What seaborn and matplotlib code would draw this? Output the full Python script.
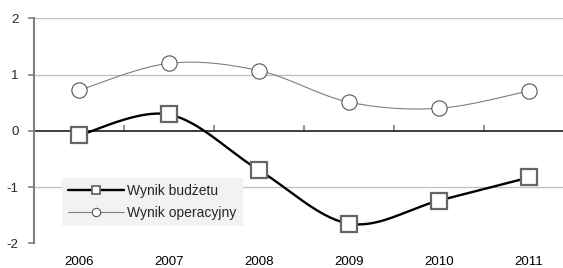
import numpy as np
import pandas as pd
import matplotlib
matplotlib.use("Agg")
import matplotlib.pyplot as plt
from matplotlib.lines import Line2D
import seaborn as sns

years = ["2006", "2007", "2008", "2009", "2010", "2011"]
wynik_budzetu = [-0.08, 0.29, -0.70, -1.65, -1.24, -0.83]
wynik_operacyjny = [0.72, 1.20, 1.07, 0.51, 0.40, 0.71]
y_ticks = [-2, -1, 0, 1, 2]

sns.set_theme(style="white")
plt.rcParams["font.family"] = ["Liberation Sans", "DejaVu Sans"]


def smooth(xs, ys, n=40):
    """Bezier smoothing through the points (Catmull-Rom style)."""
    p = np.column_stack([xs, ys]).astype(float)
    p_ext = np.vstack([p[0], p, p[-1]])
    out = []
    for i in range(len(p) - 1):
        p0, p1, p2, p3 = p_ext[i], p_ext[i + 1], p_ext[i + 2], p_ext[i + 3]
        c1 = p1 + (p2 - p0) / 6.0
        c2 = p2 - (p3 - p1) / 6.0
        t = np.linspace(0, 1, n)[:, None]
        seg = ((1 - t) ** 3) * p1 + 3 * ((1 - t) ** 2) * t * c1 + 3 * (1 - t) * t ** 2 * c2 + t ** 3 * p2
        out.append(seg if i == 0 else seg[1:])
    out = np.vstack(out)
    return out[:, 0], out[:, 1]


x = np.arange(len(years))
fig = plt.figure(figsize=(5.63, 2.68), dpi=100)
ax = fig.add_axes([34 / 563, 24.7 / 268, 529 / 563, 225 / 268])

# gridlines
for v in y_ticks:
    if v == 0:
        continue
    ax.axhline(v, color="#bfbfbf" if v != -2 else "#d0d0d0", lw=0.9, zorder=0)

sx, sy = smooth(x, wynik_operacyjny)
df_op = pd.DataFrame({"x": sx, "y": sy})
sns.lineplot(data=df_op, x="x", y="y", sort=False, ax=ax, color="#7f7f7f", lw=0.8, zorder=2)
sx, sy = smooth(x, wynik_budzetu)
df_b = pd.DataFrame({"x": sx, "y": sy})
sns.lineplot(data=df_b, x="x", y="y", sort=False, ax=ax, color="black", lw=1.7, zorder=3)

ax.plot(x, wynik_operacyjny, ls="none", marker="o", ms=11, mfc="white", mec="#555555", mew=0.8, zorder=4)
ax.plot(x, wynik_budzetu, ls="none", marker="s", ms=11, mfc="white", mec="#666666", mew=1.6, zorder=5)

ax.set_xlim(-0.5, 5.5 - 11 / 90)
ax.set_ylim(-2, 2)
ax.set_xlabel("")
ax.set_ylabel("")
ax.set_yticks(y_ticks)
ax.set_yticklabels([str(v) for v in y_ticks])
ax.set_xticks(x)
ax.set_xticklabels(years)
ax.tick_params(axis="x", length=0, pad=9, labelsize=9.5, colors="black")
ax.tick_params(axis="y", length=4, width=1.2, color="#808080", pad=7, labelsize=9.5, left=True)

for s in ["top", "right", "bottom"]:
    ax.spines[s].set_visible(False)
ax.spines["left"].set_color("#808080")
ax.spines["left"].set_linewidth(1.5)

# zero axis with category-boundary ticks
sec = ax.secondary_xaxis(0.5)
sec.set_xticks(np.arange(0.5, 5.0, 1.0))
sec.set_xticklabels([])
sec.tick_params(length=4, width=1.2, color="#808080")
sec.spines["bottom"].set_color("#808080")
sec.spines["bottom"].set_linewidth(1.5)

handles = [
    Line2D([], [], color="black", lw=1.7, marker="s", ms=6, mfc="white", mec="#666666", mew=1.3),
    Line2D([], [], color="#7f7f7f", lw=0.8, marker="o", ms=6, mfc="white", mec="#555555", mew=0.8),
]
leg = ax.legend(handles, ["Wynik budżetu", "Wynik operacyjny"], loc="lower left",
                bbox_to_anchor=(0.053, 0.077), borderaxespad=0, frameon=True, fancybox=False,
                fontsize=10, handlelength=4.0, handletextpad=0.25, borderpad=0.45, labelspacing=0.55)
leg.get_frame().set_facecolor("#f2f2f2")
leg.get_frame().set_edgecolor("none")
leg.get_frame().set_alpha(1)

fig.savefig("out.png", dpi=100)
